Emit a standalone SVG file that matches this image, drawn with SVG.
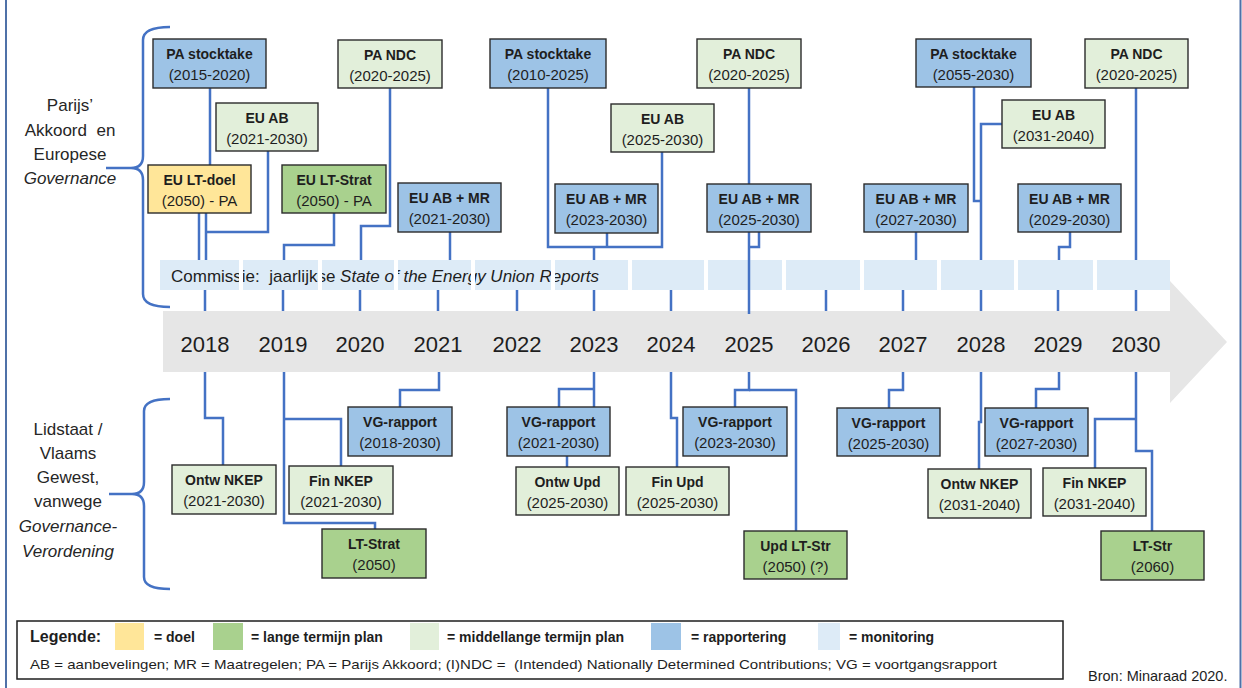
<svg xmlns="http://www.w3.org/2000/svg" width="1242" height="688" viewBox="0 0 1242 688">
<style>
  text { font-family: "Liberation Sans", Arial, sans-serif; fill: #1e1e1e; }
  .box { stroke: #2b2b2b; stroke-width: 1.4; }
  .blue { fill: #9DC3E6; }
  .lgreen { fill: #E2EFDA; }
  .green { fill: #A9D18E; }
  .yellow { fill: #FFE699; }
  .mon { fill: #DDEBF7; }
  .t1 { font-size: 14px; font-weight: bold; text-anchor: middle; }
  .t2 { font-size: 15px; text-anchor: middle; }
  .year { font-size: 22px; text-anchor: middle; }
  .side { font-size: 17px; text-anchor: middle; fill: #262626; }
  .conn { fill: none; stroke: #4472C4; stroke-width: 2.5; }
  .brace { fill: none; stroke: #4472C4; stroke-width: 2.5; }
  .leg { font-size: 14px; font-weight: bold; }
</style>
<defs>
  <clipPath id="stripClip">
    <rect x="160" y="260" width="79" height="30"/>
    <rect x="243" y="260" width="75" height="30"/>
    <rect x="322" y="260" width="72" height="30"/>
    <rect x="398" y="260" width="73" height="30"/>
    <rect x="475" y="260" width="76" height="30"/>
    <rect x="555" y="260" width="73" height="30"/>
    <rect x="632" y="260" width="72" height="30"/>
  </clipPath>
</defs>
<rect x="0" y="0" width="1242" height="688" fill="#ffffff"/>
<!-- outer frame lines -->
<line x1="6" y1="0" x2="6" y2="688" stroke="#4F71A8" stroke-width="2"/>
<line x1="1240.5" y1="0" x2="1240.5" y2="688" stroke="#4F71A8" stroke-width="2"/>

<!-- braces and side labels -->
<g id="brace-top">
  <path class="brace" d="M170,27 Q143,27 143,40 L143,156 Q143,168 131,168 L106,168 M131,168 Q143,168 143,180 L143,294 Q143,307 170,307"/>
  <text class="side" x="70" y="111">Parijs’</text>
  <text class="side" x="70" y="136" xml:space="preserve">Akkoord  en</text>
  <text class="side" x="70" y="160">Europese</text>
  <text class="side" x="70" y="184" font-style="italic">Governance</text>
</g>
<g id="brace-bottom">
  <path class="brace" d="M170,399 Q144,399 144,411 L144,482 Q144,494 132,494 L109,494 M132,494 Q144,494 144,506 L144,577 Q144,589 170,589"/>
  <text class="side" x="68" y="435">Lidstaat /</text>
  <text class="side" x="68" y="459">Vlaams</text>
  <text class="side" x="68" y="483">Gewest,</text>
  <text class="side" x="68" y="507">vanwege</text>
  <text class="side" x="68" y="532" font-style="italic">Governance-</text>
  <text class="side" x="68" y="557" font-style="italic">Verordening</text>
</g>

<!-- timeline arrow -->
<g id="timeline">
  <polygon points="163,311 1170,311 1170,281 1227,342 1170,403 1170,372 163,372" fill="#E6E6E6"/>
  <text class="year" x="205" y="352">2018</text>
  <text class="year" x="283" y="352">2019</text>
  <text class="year" x="360" y="352">2020</text>
  <text class="year" x="438" y="352">2021</text>
  <text class="year" x="517" y="352">2022</text>
  <text class="year" x="594" y="352">2023</text>
  <text class="year" x="671" y="352">2024</text>
  <text class="year" x="749" y="352">2025</text>
  <text class="year" x="826" y="352">2026</text>
  <text class="year" x="903" y="352">2027</text>
  <text class="year" x="981" y="352">2028</text>
  <text class="year" x="1058" y="352">2029</text>
  <text class="year" x="1136" y="352">2030</text>
</g>

<!-- monitoring strip -->
<g id="monitoring-strip">
  <rect class="mon" x="160" y="260" width="79" height="30"/>
  <rect class="mon" x="243" y="260" width="75" height="30"/>
  <rect class="mon" x="322" y="260" width="72" height="30"/>
  <rect class="mon" x="398" y="260" width="73" height="30"/>
  <rect class="mon" x="475" y="260" width="76" height="30"/>
  <rect class="mon" x="555" y="260" width="73" height="30"/>
  <rect class="mon" x="632" y="260" width="72" height="30"/>
  <rect class="mon" x="708" y="260" width="74" height="30"/>
  <rect class="mon" x="786" y="260" width="74" height="30"/>
  <rect class="mon" x="864" y="260" width="73" height="30"/>
  <rect class="mon" x="941" y="260" width="73" height="30"/>
  <rect class="mon" x="1018" y="260" width="75" height="30"/>
  <rect class="mon" x="1097" y="260" width="73" height="30"/>
  <text x="171" y="282" font-size="17" clip-path="url(#stripClip)" xml:space="preserve">Commissie:  jaarlijkse <tspan font-style="italic">State of the Energy Union Reports</tspan></text>
</g>

<!-- connectors -->
<g id="connectors" class="conn">
  <!-- top side -->
  <path d="M210,88 V200 H206 V260"/>
  <path d="M268,151 V232 H206"/>
  <path d="M199,213 V260"/>
  <path d="M334,213 V245 H284 V260"/>
  <path d="M390,88 V226 H361 V260"/>
  <path d="M450,232 V260"/>
  <path d="M548,88 V247 H662 V152"/>
  <path d="M607,233 V247"/>
  <path d="M594,247 V260"/>
  <path d="M749,88 V184"/>
  <path d="M749,232 V314"/>
  <path d="M759,232 V247 H749"/>
  <path d="M916,232 V260"/>
  <path d="M974,87 V201 H981"/>
  <path d="M1002,124 H981 V260"/>
  <path d="M1070,232 V247 H1059 V260"/>
  <path d="M1136,88 V260"/>
  <!-- ticks between strip and band -->
  <path d="M205,290 V311 M283,290 V311 M360,290 V311 M438,290 V311 M517,290 V311 M594,290 V311 M671,290 V311 M826,290 V311 M903,290 V311 M981,290 V311 M1058,290 V311 M1136,290 V311"/>
  <!-- bottom side -->
  <path d="M205,372 V418 H223 V465"/>
  <path d="M284,372 V523 H375 V529"/>
  <path d="M284,419 H341 V466"/>
  <path d="M439,372 V390 H400 V407"/>
  <path d="M594,372 V407"/>
  <path d="M594,389 H559 V407"/>
  <path d="M567,456 V467"/>
  <path d="M671,372 V418 H677 V467"/>
  <path d="M749,372 V390 H735 V407"/>
  <path d="M749,390 H796 V531"/>
  <path d="M903,372 V390 H889 V408"/>
  <path d="M981,372 V422 H979 V469"/>
  <path d="M1059,372 V389 H1036 V408"/>
  <path d="M1136,372 V451 H1152 V531"/>
  <path d="M1136,419 H1095 V468"/>
</g>

<!-- top nodes -->
<g id="pa-stocktake-2015">
  <rect class="box blue" x="153" y="39" width="113" height="49"/>
  <text class="t1" x="209.5" y="59">PA stocktake</text>
  <text class="t2" x="209.5" y="80">(2015-2020)</text>
</g>
<g id="eu-ab-2021">
  <rect class="box lgreen" x="216" y="103" width="102" height="48"/>
  <text class="t1" x="267" y="123">EU AB</text>
  <text class="t2" x="267" y="144">(2021-2030)</text>
</g>
<g id="eu-lt-doel">
  <rect class="box yellow" x="148" y="165" width="103" height="48"/>
  <text class="t1" x="199.5" y="185">EU LT-doel</text>
  <text class="t2" x="199.5" y="206">(2050) - PA</text>
</g>
<g id="eu-lt-strat">
  <rect class="box green" x="282" y="165" width="104" height="48"/>
  <text class="t1" x="334" y="185">EU LT-Strat</text>
  <text class="t2" x="334" y="206">(2050) - PA</text>
</g>
<g id="pa-ndc-2020a">
  <rect class="box lgreen" x="338" y="40" width="104" height="48"/>
  <text class="t1" x="390" y="60">PA NDC</text>
  <text class="t2" x="390" y="81">(2020-2025)</text>
</g>
<g id="eu-ab-mr-2021">
  <rect class="box blue" x="398" y="183" width="103" height="49"/>
  <text class="t1" x="449.5" y="203">EU AB + MR</text>
  <text class="t2" x="449.5" y="224">(2021-2030)</text>
</g>
<g id="pa-stocktake-2010">
  <rect class="box blue" x="490" y="39" width="116" height="49"/>
  <text class="t1" x="548" y="59">PA stocktake</text>
  <text class="t2" x="548" y="80">(2010-2025)</text>
</g>
<g id="eu-ab-2025">
  <rect class="box lgreen" x="611" y="104" width="103" height="48"/>
  <text class="t1" x="662.5" y="124">EU AB</text>
  <text class="t2" x="662.5" y="145">(2025-2030)</text>
</g>
<g id="eu-ab-mr-2023">
  <rect class="box blue" x="555" y="184" width="103" height="49"/>
  <text class="t1" x="606.5" y="204">EU AB + MR</text>
  <text class="t2" x="606.5" y="225">(2023-2030)</text>
</g>
<g id="pa-ndc-2020b">
  <rect class="box lgreen" x="697" y="39" width="104" height="49"/>
  <text class="t1" x="749" y="59">PA NDC</text>
  <text class="t2" x="749" y="80">(2020-2025)</text>
</g>
<g id="eu-ab-mr-2025">
  <rect class="box blue" x="707" y="184" width="104" height="48"/>
  <text class="t1" x="759" y="204">EU AB + MR</text>
  <text class="t2" x="759" y="225">(2025-2030)</text>
</g>
<g id="pa-stocktake-2055">
  <rect class="box blue" x="916" y="39" width="115" height="48"/>
  <text class="t1" x="973.5" y="59">PA stocktake</text>
  <text class="t2" x="973.5" y="80">(2055-2030)</text>
</g>
<g id="eu-ab-2031">
  <rect class="box lgreen" x="1002" y="100" width="103" height="48"/>
  <text class="t1" x="1053.5" y="120">EU AB</text>
  <text class="t2" x="1053.5" y="141">(2031-2040)</text>
</g>
<g id="pa-ndc-2020c">
  <rect class="box lgreen" x="1085" y="39" width="103" height="49"/>
  <text class="t1" x="1136.5" y="59">PA NDC</text>
  <text class="t2" x="1136.5" y="80">(2020-2025)</text>
</g>
<g id="eu-ab-mr-2027">
  <rect class="box blue" x="864" y="184" width="104" height="48"/>
  <text class="t1" x="916" y="204">EU AB + MR</text>
  <text class="t2" x="916" y="225">(2027-2030)</text>
</g>
<g id="eu-ab-mr-2029">
  <rect class="box blue" x="1018" y="184" width="103" height="48"/>
  <text class="t1" x="1069.5" y="204">EU AB + MR</text>
  <text class="t2" x="1069.5" y="225">(2029-2030)</text>
</g>

<!-- bottom nodes -->
<g id="ontw-nkep-2021">
  <rect class="box lgreen" x="172" y="465" width="104" height="49"/>
  <text class="t1" x="224" y="485">Ontw NKEP</text>
  <text class="t2" x="224" y="506">(2021-2030)</text>
</g>
<g id="fin-nkep-2021">
  <rect class="box lgreen" x="289" y="466" width="104" height="48"/>
  <text class="t1" x="341" y="486">Fin NKEP</text>
  <text class="t2" x="341" y="507">(2021-2030)</text>
</g>
<g id="vg-rapport-2018">
  <rect class="box blue" x="348" y="407" width="104" height="49"/>
  <text class="t1" x="400" y="427">VG-rapport</text>
  <text class="t2" x="400" y="448">(2018-2030)</text>
</g>
<g id="lt-strat-2050">
  <rect class="box green" x="322" y="529" width="104" height="49"/>
  <text class="t1" x="374" y="549">LT-Strat</text>
  <text class="t2" x="374" y="570">(2050)</text>
</g>
<g id="vg-rapport-2021">
  <rect class="box blue" x="507" y="407" width="103" height="49"/>
  <text class="t1" x="558.5" y="427">VG-rapport</text>
  <text class="t2" x="558.5" y="448">(2021-2030)</text>
</g>
<g id="ontw-upd-2025">
  <rect class="box lgreen" x="516" y="467" width="103" height="48"/>
  <text class="t1" x="567.5" y="487">Ontw Upd</text>
  <text class="t2" x="567.5" y="508">(2025-2030)</text>
</g>
<g id="fin-upd-2025">
  <rect class="box lgreen" x="626" y="467" width="103" height="48"/>
  <text class="t1" x="677.5" y="487">Fin Upd</text>
  <text class="t2" x="677.5" y="508">(2025-2030)</text>
</g>
<g id="vg-rapport-2023">
  <rect class="box blue" x="683" y="407" width="104" height="49"/>
  <text class="t1" x="735" y="427">VG-rapport</text>
  <text class="t2" x="735" y="448">(2023-2030)</text>
</g>
<g id="upd-lt-str-2050">
  <rect class="box green" x="744" y="531" width="103" height="48"/>
  <text class="t1" x="795.5" y="551">Upd LT-Str</text>
  <text class="t2" x="795.5" y="572">(2050) (?)</text>
</g>
<g id="vg-rapport-2025">
  <rect class="box blue" x="837" y="408" width="103" height="48"/>
  <text class="t1" x="888.5" y="428">VG-rapport</text>
  <text class="t2" x="888.5" y="449">(2025-2030)</text>
</g>
<g id="ontw-nkep-2031">
  <rect class="box lgreen" x="928" y="469" width="103" height="49"/>
  <text class="t1" x="979.5" y="489">Ontw NKEP</text>
  <text class="t2" x="979.5" y="510">(2031-2040)</text>
</g>
<g id="vg-rapport-2027">
  <rect class="box blue" x="985" y="408" width="103" height="48"/>
  <text class="t1" x="1036.5" y="428">VG-rapport</text>
  <text class="t2" x="1036.5" y="449">(2027-2030)</text>
</g>
<g id="fin-nkep-2031">
  <rect class="box lgreen" x="1043" y="468" width="103" height="48"/>
  <text class="t1" x="1094.5" y="488">Fin NKEP</text>
  <text class="t2" x="1094.5" y="509">(2031-2040)</text>
</g>
<g id="lt-str-2060">
  <rect class="box green" x="1101" y="531" width="103" height="49"/>
  <text class="t1" x="1152.5" y="551">LT-Str</text>
  <text class="t2" x="1152.5" y="572">(2060)</text>
</g>

<!-- legend -->
<g id="legend">
  <rect x="17" y="621" width="1046" height="58" fill="#ffffff" stroke="#1e1e1e" stroke-width="1.5"/>
  <text x="30" y="642" font-size="16" font-weight="bold">Legende:</text>
  <rect class="yellow" x="115" y="623" width="29" height="27"/>
  <text class="leg" x="154" y="642">= doel</text>
  <rect class="green" x="213" y="623" width="30" height="27"/>
  <text class="leg" x="251" y="642">= lange termijn plan</text>
  <rect class="lgreen" x="410" y="623" width="29" height="27"/>
  <text class="leg" x="447" y="642">= middellange termijn plan</text>
  <rect class="blue" x="651" y="623" width="30" height="27"/>
  <text class="leg" x="691" y="642">= rapportering</text>
  <rect class="mon" x="818" y="623" width="22" height="27"/>
  <text class="leg" x="849" y="642">= monitoring</text>
  <text x="30" y="669" font-size="13.5" textLength="967" lengthAdjust="spacingAndGlyphs" xml:space="preserve">AB = aanbevelingen; MR = Maatregelen; PA = Parijs Akkoord; (I)NDC =  (Intended) Nationally Determined Contributions; VG = voortgangsrapport</text>
</g>
<text x="1088" y="681" font-size="14.5">Bron: Minaraad 2020.</text>
</svg>
